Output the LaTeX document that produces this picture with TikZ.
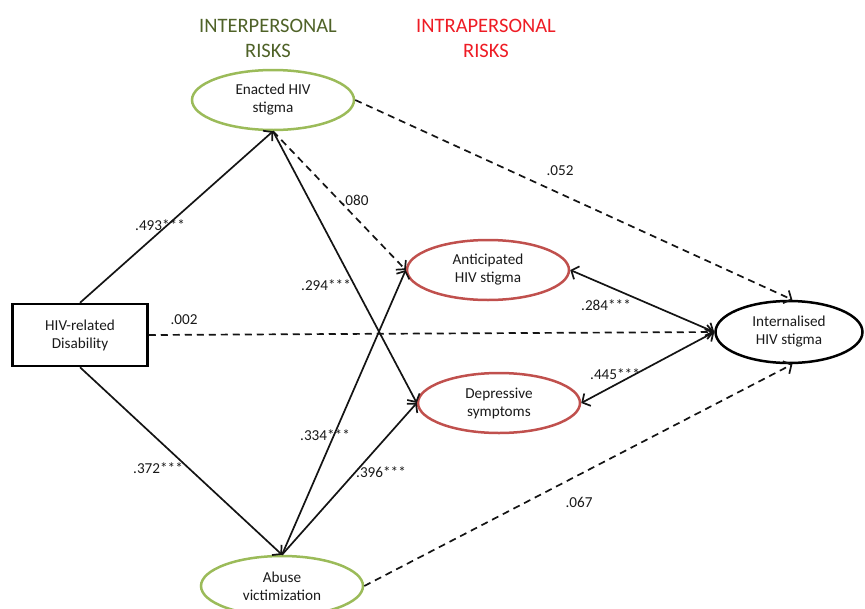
\documentclass[tikz,border=0pt]{standalone}
\usepackage{fontspec}
\setmainfont{Carlito}
\usetikzlibrary{shapes.geometric,arrows.meta}
\definecolor{interc}{HTML}{4F6228}
\definecolor{intrac}{HTML}{EE1C25}
\definecolor{gell}{HTML}{9BBB59}
\definecolor{rell}{HTML}{C0504D}
\definecolor{txt}{HTML}{1A1A1A}
\begin{document}
\begin{tikzpicture}[x=1pt,y=-1pt,
  every node/.style={font=\fontsize{15.2}{18}\selectfont, text=txt},
  ell/.style={ellipse, draw, line width=2.5pt, minimum width=162pt, minimum height=60pt, inner sep=0pt, align=center},
  gnode/.style={ell, draw=gell},
  rnode/.style={ell, draw=rell},
  knode/.style={ell, draw=black, minimum width=147pt, minimum height=62pt},
  boxnode/.style={rectangle, draw=black, line width=2.5pt, minimum width=135pt, minimum height=62pt, align=center},
  head/.style={font=\fontsize{20.5}{25}\selectfont, align=center},
  tip/.style={},
  path/.style={line width=1.7pt, draw=black!92, -{Straight Barb[length=6pt,width=14pt,line width=1.7pt]}},
  dpath/.style={path, dash pattern=on 7pt off 5pt},
  bpath/.style={path, {Straight Barb[length=6pt,width=14pt,line width=1.7pt]}-{Straight Barb[length=6pt,width=14pt,line width=1.7pt]}},
  lab/.style={text=txt}
]
\useasboundingbox (0,0) rectangle (865,608);

\node[head, text=interc] (hinter) at (268,38) {INTERPERSONAL\\RISKS};
\node[head, text=intrac] (hintra) at (486,38) {INTRAPERSONAL\\RISKS};

\node[gnode] (enacted) at (273,100) {Enacted HIV\\stigma};
\node[boxnode] (disab) at (80,335) {HIV-related\\Disability};
\node[rnode] (antic) at (488,270) {Anticipated\\HIV stigma};
\node[rnode] (depr) at (499,403) {Depressive\\symptoms};
\node[knode] (intern) at (789,332) {Internalised\\HIV stigma};
\node[gnode] (abuse) at (282,586) {Abuse\\victimization};

\draw[path] (disab.north) -- (enacted.south);
\draw[path] (disab.south) -- (abuse.north);
\draw[dpath] (disab.east) -- (intern.west);
\draw[path] (enacted.south) -- (depr.west);
\draw[dpath] (enacted.south) -- (antic.west);
\draw[dpath] (enacted.east) -- (intern.84);
\draw[path] (abuse.north) -- (antic.west);
\draw[path] (abuse.north) -- (depr.west);
\draw[dpath] (abuse.east) -- (intern.-84);
\draw[bpath] (antic.east) -- (intern.west);
\draw[bpath] (depr.east) -- (intern.west);

\node[lab] (l1) at (160,225) {.493***};
\node[lab] (l2) at (158,468) {.372***};
\node[lab] (l3) at (184,320) {.002};
\node[lab] (l4) at (355,200) {.080};
\node[lab] (l5) at (326,285) {.294***};
\node[lab] (l6) at (325,435) {.334***};
\node[lab] (l7) at (381,472) {.396***};
\node[lab] (l8) at (560,171) {.052};
\node[lab] (l9) at (606,305) {.284***};
\node[lab] (l10) at (615,374) {.445***};
\node[lab] (l11) at (579,502) {.067};
\end{tikzpicture}
\end{document}
